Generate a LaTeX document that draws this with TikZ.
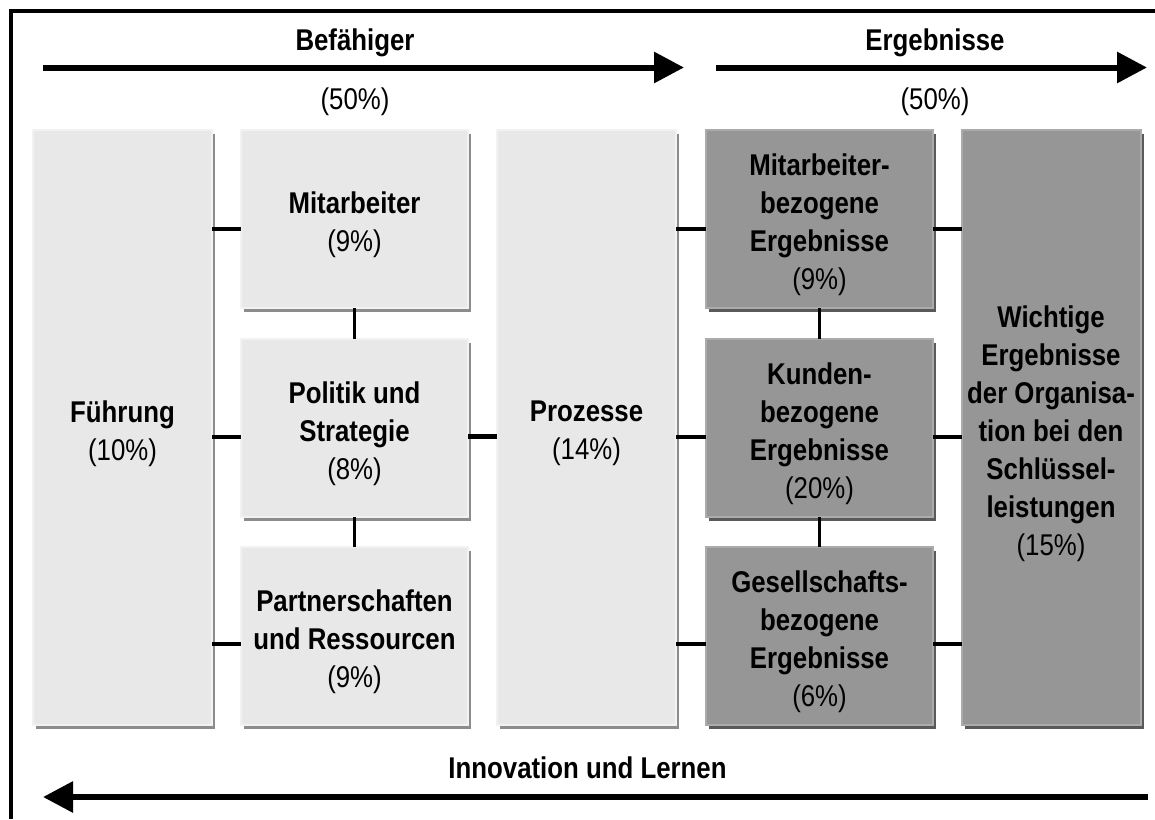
\documentclass[tikz,border=0pt]{standalone}
\usepackage{fontspec}
\setmainfont[FakeStretch=0.86]{Liberation Sans}
\usetikzlibrary{arrows.meta,shadows}
\definecolor{lfill}{HTML}{E8E8E8}
\definecolor{lhi}{HTML}{F2F2F2}
\definecolor{lsh}{HTML}{8C8C8C}
\definecolor{dfill}{HTML}{969696}
\definecolor{dhi}{HTML}{ABABAB}
\definecolor{dsh}{HTML}{5A5A5A}
\tikzset{
  boxbase/.style={rectangle, inner sep=0pt, outer sep=0pt, line width=2pt},
  lbox/.style={boxbase, fill=lfill, draw=lhi,
    drop shadow={shadow xshift=3pt, shadow yshift=-4pt, fill=lsh, opacity=1}},
  dbox/.style={boxbase, fill=dfill, draw=dhi,
    drop shadow={shadow xshift=3pt, shadow yshift=-4pt, fill=dsh, opacity=1}},
  wide/.style={minimum width=227pt},
  narrow/.style={minimum width=179pt},
  short/.style={minimum height=178pt},
  tall/.style={minimum height=595pt},
  txt/.style={inner sep=0pt, align=center, font=\fontsize{30}{38}\selectfont},
  conn/.style={line width=3.5pt, black},
  bigarrow/.style={line width=6pt, -{Triangle[length=30pt,width=30pt]}},
  frame/.style={line width=4pt, black}
}
\begin{document}
\begin{tikzpicture}[x=1pt,y=-1pt]
\useasboundingbox (0,0) rectangle (1155,819);
\fill[white] (0,0) rectangle (1155,819);
% frame (only top and left visible)
\draw[frame] (10.5,819) -- (10.5,10.5) -- (1155,10.5);

% boxes
\node[lbox, narrow, tall] (F) at (122.5,427.5) {};
\node[lbox, wide, short] (M) at (354.5,219) {};
\node[lbox, wide, short] (P) at (354.5,428) {};
\node[lbox, wide, short] (R) at (354.5,636) {};
\node[lbox, narrow, tall] (Z) at (586.5,427.5) {};
\node[dbox, wide, short] (ME) at (819.5,219) {};
\node[dbox, wide, short] (KE) at (819.5,428) {};
\node[dbox, wide, short] (GE) at (819.5,636) {};
\node[dbox, narrow, tall] (W) at (1051,427.5) {};

% box texts
\node[txt] (tF) at ([yshift=-6pt]F.center) {\textbf{Führung}\\(10\%)};
\node[txt] (tM) at ([yshift=-6pt]M.center) {\textbf{Mitarbeiter}\\(9\%)};
\node[txt] (tP) at ([yshift=-6pt]P.center) {\textbf{Politik und}\\\textbf{Strategie}\\(8\%)};
\node[txt] (tR) at ([yshift=-6pt]R.center) {\textbf{Partnerschaften}\\\textbf{und Ressourcen}\\(9\%)};
\node[txt] (tZ) at ([yshift=-6pt]Z.center) {\textbf{Prozesse}\\(14\%)};
\node[txt] (tME) at ([yshift=-6pt]ME.center) {\textbf{Mitarbeiter-}\\\textbf{bezogene}\\\textbf{Ergebnisse}\\(9\%)};
\node[txt] (tKE) at ([yshift=-6pt]KE.center) {\textbf{Kunden-}\\\textbf{bezogene}\\\textbf{Ergebnisse}\\(20\%)};
\node[txt] (tGE) at ([yshift=-6pt]GE.center) {\textbf{Gesellschafts-}\\\textbf{bezogene}\\\textbf{Ergebnisse}\\(6\%)};
\node[txt] (tW) at ([yshift=-6pt]W.center) {\textbf{Wichtige}\\\textbf{Ergebnisse}\\\textbf{der Organisa-}\\\textbf{tion bei den}\\\textbf{Schlüssel-}\\\textbf{leistungen}\\(15\%)};

% horizontal connectors
\foreach \a/\b/\s in {F/M/-10, F/P/-9, F/R/-8, M/Z/-10, P/Z/-9, R/Z/-8, Z/ME/-10, Z/KE/-9, Z/GE/-8} {
  \draw[conn] ([yshift=\s pt]\b.west -| \a.east) -- ([yshift=\s pt]\b.west);
}
\foreach \a/\b/\s in {ME/W/-10, KE/W/-9, GE/W/-8} {
  \draw[conn] ([yshift=\s pt]\a.east) -- ([yshift=\s pt]\a.east -| \b.west);
}
% vertical connectors
\draw[conn] (M.south) -- (P.north);
\draw[conn] (P.south) -- (R.north);
\draw[conn] (ME.south) -- (KE.north);
\draw[conn] (KE.south) -- (GE.north);

% top arrows and labels
\coordinate (a1s) at (43,67.5);
\coordinate (a1e) at (684,67.5);
\coordinate (a2s) at (716,67.5);
\coordinate (a2e) at (1147,67.5);
\coordinate (a3s) at (1148,797);
\coordinate (a3e) at (43,797);
\draw[bigarrow] (a1s) -- (a1e);
\draw[bigarrow] (a2s) -- (a2e);
\draw[bigarrow] (a3s) -- (a3e);

\node[txt, anchor=base] (lb) at (355,50) {\textbf{Befähiger}};
\node[txt, anchor=base] (le) at (935,50) {\textbf{Ergebnisse}};
\node[txt, anchor=base] (pb) at (355,109) {(50\%)};
\node[txt, anchor=base] (pe) at (935,109) {(50\%)};
\node[txt, anchor=base] (li) at (587.5,778) {\textbf{Innovation und Lernen}};
\end{tikzpicture}
\end{document}
